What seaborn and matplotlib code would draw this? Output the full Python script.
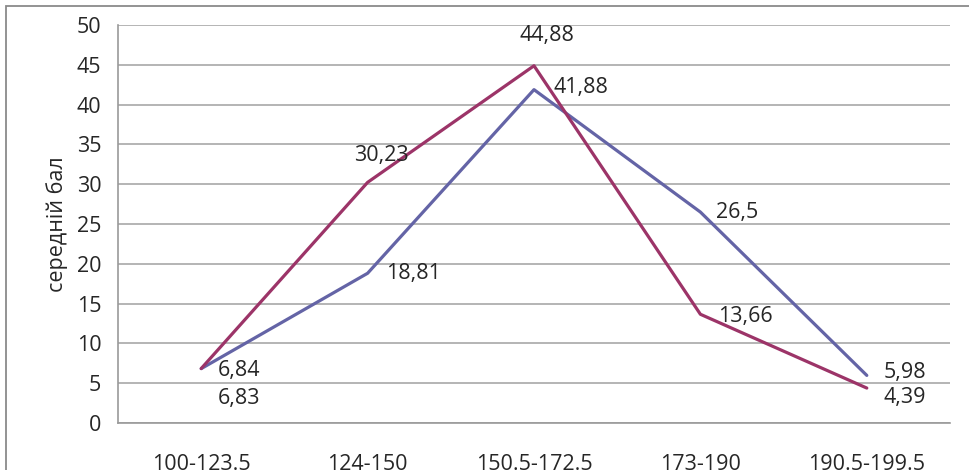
import matplotlib
matplotlib.use("Agg")
import matplotlib.pyplot as plt
import seaborn as sns
import pandas as pd
from matplotlib.patches import Rectangle

categories = ["100-123.5", "124-150", "150.5-172.5", "173-190", "190.5-199.5"]
series_blue = [6.83, 18.81, 41.88, 26.5, 5.98]
series_red = [6.84, 30.23, 44.88, 13.66, 4.39]
labels_blue = ["6,83", "18,81", "41,88", "26,5", "5,98"]
labels_red = ["6,84", "30,23", "44,88", "13,66", "4,39"]

BLUE = "#6464A6"
RED = "#9C3468"
FS = 15.5

sns.set_theme(style="white")
plt.rcParams["font.family"] = ["Open Sans", "DejaVu Sans"]

df = pd.DataFrame({
    "cat": categories * 2,
    "pos": list(range(len(categories))) * 2,
    "val": series_blue + series_red,
    "series": ["blue"] * 5 + ["red"] * 5,
})

fig = plt.figure(figsize=(9.7, 4.7), dpi=100)
ax = fig.add_axes([118 / 970, 1 - 423 / 470, (950 - 118) / 970, (423 - 25) / 470])

sns.lineplot(data=df, x="pos", y="val", hue="series",
             palette={"blue": BLUE, "red": RED}, linewidth=2.3,
             legend=False, ax=ax, sort=False)

ax.set_xlim(-0.5, 4.5)
ax.set_ylim(0, 50)
ax.set_yticks(range(0, 51, 5))
ax.set_xticks([i - 0.5 for i in range(6)])
ax.set_xticklabels([])
ax.set_xticks(range(5), minor=True)
ax.set_xticklabels(categories, minor=True)
ax.tick_params(axis="x", which="minor", length=0, labelsize=FS, pad=22)
ax.tick_params(axis="x", which="major", length=6, color="#9a9a9a", width=1.2, direction="out")
ax.tick_params(axis="y", length=6, color="#9a9a9a", width=1.2, labelsize=FS, pad=6, direction="out")
ax.grid(axis="y", color="#a8a8a8", linewidth=1.2)
ax.set_xlabel("")
ax.set_ylabel("середній бал", fontsize=FS, labelpad=6)
for s in ["top", "right"]:
    ax.spines[s].set_visible(False)
for s in ["left", "bottom"]:
    ax.spines[s].set_color("#9a9a9a")
    ax.spines[s].set_linewidth(1.2)

# data labels, offsets in pixels from each point
off_red = [(17, -2), (-14, 27), (-14, 30), (18, -2), (17, -9)]
off_blue = [(17, -30), (18, 0), (19, 2), (16, 0), (17, 3)]
for i in range(5):
    ax.annotate(labels_red[i], (i, series_red[i]), xytext=off_red[i],
                textcoords="offset pixels", fontsize=FS, va="center", ha="left")
    ax.annotate(labels_blue[i], (i, series_blue[i]), xytext=off_blue[i],
                textcoords="offset pixels", fontsize=FS, va="center", ha="left")

fig.patches.append(Rectangle((6 / 970, -0.1), 1.2, 1 - 6 / 470 + 0.1,
                             transform=fig.transFigure, fill=False,
                             edgecolor="#8a8a8a", linewidth=1.3))

fig.savefig("out.png", dpi=100)
